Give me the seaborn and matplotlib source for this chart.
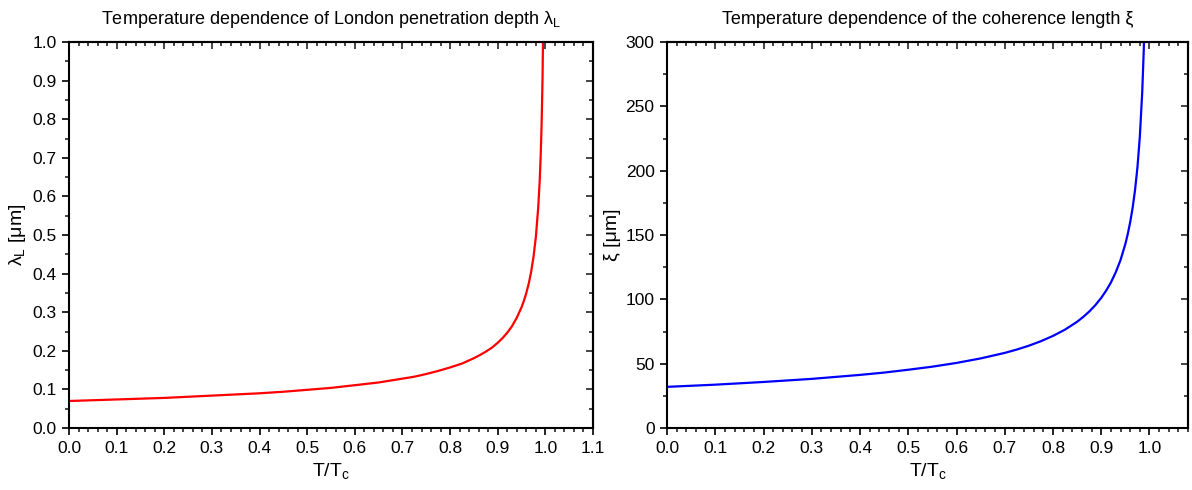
import numpy as np
import pandas as pd
import matplotlib
matplotlib.use('Agg')
import matplotlib.pyplot as plt
from matplotlib.ticker import MultipleLocator, FormatStrFormatter
import seaborn as sns

# values
t_lambda = [0.0, 0.1, 0.2, 0.3, 0.4, 0.45, 0.5, 0.55, 0.6, 0.65, 0.7, 0.725, 0.75, 0.775,
            0.8, 0.825, 0.85, 0.8625, 0.875, 0.8875, 0.9, 0.91, 0.92, 0.93, 0.94, 0.95,
            0.955, 0.96, 0.965, 0.97, 0.975, 0.98, 0.985, 0.988, 0.99, 0.992, 0.994, 0.996]
lambda_L = [0.070, 0.074, 0.078, 0.084, 0.090, 0.094, 0.099, 0.104, 0.111, 0.118, 0.128,
            0.133, 0.140, 0.148, 0.157, 0.167, 0.181, 0.189, 0.198, 0.208, 0.221, 0.233,
            0.247, 0.264, 0.286, 0.313, 0.330, 0.350, 0.374, 0.404, 0.443, 0.495, 0.572,
            0.639, 0.700, 0.783, 0.904, 1.107]

t_xi = [0.0, 0.1, 0.2, 0.3, 0.4, 0.45, 0.5, 0.55, 0.6, 0.65, 0.7, 0.725, 0.75, 0.775, 0.8,
        0.825, 0.85, 0.8625, 0.875, 0.8875, 0.9, 0.91, 0.92, 0.93, 0.94, 0.95, 0.955, 0.96,
        0.965, 0.97, 0.975, 0.98, 0.985, 0.988, 0.99]
xi = [32.0, 33.7, 35.8, 38.2, 41.3, 43.1, 45.3, 47.7, 50.6, 54.1, 58.4, 61.0, 64.0, 67.5,
      71.6, 76.5, 82.6, 86.3, 90.5, 95.4, 101.2, 106.7, 113.1, 121.0, 130.6, 143.1, 150.8,
      160.0, 171.0, 184.8, 202.4, 226.3, 261.3, 292.1, 320.0]

sns.set_style('ticks')
plt.rcParams['font.family'] = ['Liberation Sans', 'DejaVu Sans']
plt.rcParams['mathtext.fontset'] = 'custom'
plt.rcParams['mathtext.rm'] = 'Liberation Sans'
plt.rcParams['mathtext.it'] = 'Liberation Sans'
plt.rcParams['text.color'] = 'black'
plt.rcParams['axes.labelcolor'] = 'black'

fig = plt.figure(figsize=(11.92, 4.9), dpi=100)
ax1 = fig.add_axes([0.0579, 0.1265, 0.4396, 0.7875])
ax2 = fig.add_axes([0.5596, 0.1265, 0.4371, 0.7875])


def style_axes(ax, xmax, ymax, xmajor, ymajor, yminor):
    ax.set_xlim(0, xmax)
    ax.set_ylim(0, ymax)
    ax.xaxis.set_major_locator(MultipleLocator(xmajor))
    ax.xaxis.set_minor_locator(MultipleLocator(0.02))
    ax.yaxis.set_major_locator(MultipleLocator(ymajor))
    ax.yaxis.set_minor_locator(MultipleLocator(yminor))
    ax.tick_params(which='major', direction='out', length=5, width=1.2, labelsize=12.5,
                   colors='black', pad=4)
    ax.tick_params(which='minor', direction='out', length=3, width=1.2)
    for s in ax.spines.values():
        s.set_visible(True)
        s.set_linewidth(1.5)
        s.set_color('black')
    top = ax.secondary_xaxis('top')
    top.xaxis.set_major_locator(MultipleLocator(xmajor))
    top.xaxis.set_minor_locator(MultipleLocator(0.02))
    top.tick_params(which='major', direction='in', length=5, width=1.2, labeltop=False)
    top.tick_params(which='minor', direction='in', length=3, width=1.2)
    top.spines['top'].set_linewidth(1.5)
    right = ax.secondary_yaxis('right')
    right.yaxis.set_major_locator(MultipleLocator(ymajor))
    right.yaxis.set_minor_locator(MultipleLocator(yminor))
    right.tick_params(which='major', direction='in', length=5, width=1.2, labelright=False)
    right.tick_params(which='minor', direction='in', length=3, width=1.2)
    right.spines['right'].set_linewidth(1.5)
    ax.set_xlabel(r'T/T$_\mathregular{c}$', fontsize=14, labelpad=4, color='black')


df1 = pd.DataFrame({'t': t_lambda, 'lam': lambda_L})
sns.lineplot(data=df1, x='t', y='lam', ax=ax1, color='#ff0000', linewidth=1.6, sort=False)
style_axes(ax1, 1.1, 1.0, 0.1, 0.1, 0.05)
ax1.xaxis.set_major_formatter(FormatStrFormatter('%.1f'))
ax1.yaxis.set_major_formatter(FormatStrFormatter('%.1f'))
ax1.set_ylabel(r'λ$_\mathregular{L}$ [μm]', fontsize=14, labelpad=3, color='black')
ax1.set_title(r'Temperature dependence of London penetration depth λ$_\mathregular{L}$',
              fontsize=13, pad=13, color='black')

df2 = pd.DataFrame({'t': t_xi, 'xi': xi})
sns.lineplot(data=df2, x='t', y='xi', ax=ax2, color='#0000ff', linewidth=1.6, sort=False)
style_axes(ax2, 1.08, 300, 0.1, 50, 25)
ax2.set_xticks(np.arange(0, 1.01, 0.1))
ax2.xaxis.set_major_formatter(FormatStrFormatter('%.1f'))
ax2.set_ylabel('ξ [μm]', fontsize=14, labelpad=3, color='black')
ax2.set_title('Temperature dependence of the coherence length ξ', fontsize=13, pad=13,
              color='black')

fig.savefig('out.png', dpi=100)
